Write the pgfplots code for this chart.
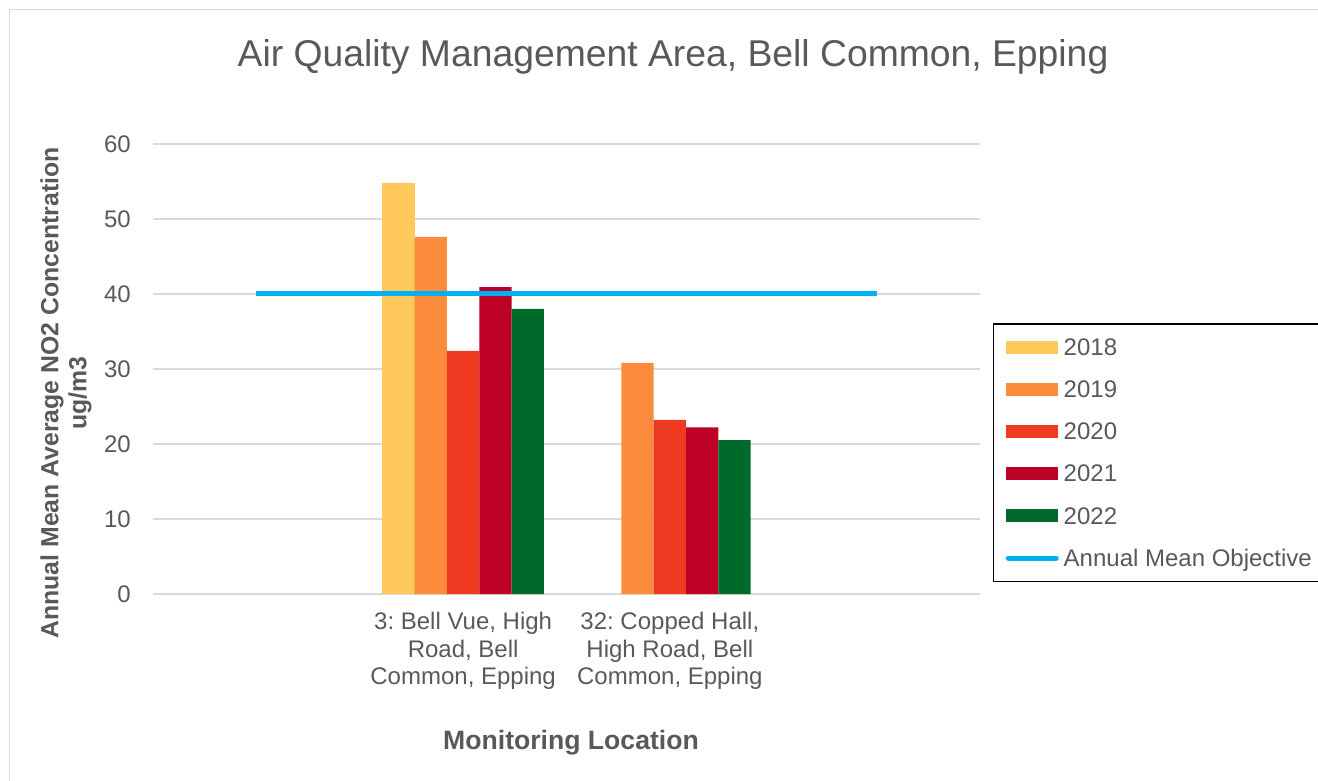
\documentclass[border=0pt]{standalone}
\usepackage{fontspec}
\setmainfont{Liberation Sans}
\usepackage{pgfplots}
\pgfplotsset{compat=1.18}
\frenchspacing
\definecolor{txt}{HTML}{595959}
\definecolor{gridc}{HTML}{D9D9D9}
\definecolor{cA}{HTML}{FFC95C}
\definecolor{cB}{HTML}{FD8B3E}
\definecolor{cC}{HTML}{EE3B22}
\definecolor{cD}{HTML}{BC0026}
\definecolor{cE}{HTML}{006A2A}
\definecolor{cL}{HTML}{00B0F0}
\begin{document}
\frenchspacing
\begin{tikzpicture}[x=1pt,y=1pt]
\path[use as bounding box] (0,0) rectangle (1318,780);
\draw[gridc, line width=1.2pt] (9.5,770.5) rectangle (1340,-20);
\node[txt, font=\fontsize{37.3}{44}\selectfont] at (673,723) {Air Quality Management Area, Bell Common, Epping};
\node[txt, font=\bfseries\fontsize{26.6}{30}\selectfont] at (571,37) {Monitoring Location};
\node[txt, rotate=90, align=center, font=\bfseries\fontsize{24.8}{28}\selectfont] at (66,387) {Annual Mean Average NO2 Concentration\\ug/m3};
\begin{axis}[
  at={(153pt,186pt)}, anchor=south west,
  scale only axis, width=827pt, height=450pt,
  xmin=-0.5, xmax=3.5, ymin=0, ymax=60,
  ytick={0,10,...,60},
  xtick={0,1,2,3},
  xticklabels={{}, {3: Bell Vue, High\\Road, Bell\\Common, Epping}, {32: Copped Hall,\\High Road, Bell\\Common, Epping}, {}},
  xticklabel style={align=center, inner sep=0pt, yshift=-14pt, text=txt, font=\frenchspacing\fontsize{24}{27.2}\selectfont},
  yticklabel style={inner sep=0pt, xshift=-22pt, text=txt, font=\fontsize{24}{27}\selectfont},
  /pgf/number format/assume math mode=true,
  axis line style={draw=none},
  tick style={draw=none},
  ymajorgrids, major grid style={gridc, line width=1.5pt},
  ybar=0pt, bar width=32.3pt,
  legend style={at={(axis description cs:1.0157,0.6022)}, anchor=north west,
    draw=black, line width=1.5pt, text=txt,
    font=\fontsize{24}{27}\selectfont,
    inner xsep=12pt, inner ysep=15pt, row sep=25.7pt,
    nodes={inner sep=0pt, text height=16.5pt, text depth=0pt},
    /tikz/every odd column/.append style={column sep=5pt}},
  legend cell align=left,
]
\addplot[fill=cA, draw=none, bar shift=-64.6pt, legend image code/.code={\fill[cA] (0pt,-6.5pt) rectangle (52pt,6.5pt);}] coordinates {(1,54.8)};
\addplot[fill=cB, draw=none, bar shift=-32.3pt, legend image code/.code={\fill[cB] (0pt,-6.5pt) rectangle (52pt,6.5pt);}] coordinates {(1,47.6) (2,30.8)};
\addplot[fill=cC, draw=none, bar shift=0pt, legend image code/.code={\fill[cC] (0pt,-6.5pt) rectangle (52pt,6.5pt);}] coordinates {(1,32.4) (2,23.2)};
\addplot[fill=cD, draw=none, bar shift=32.3pt, legend image code/.code={\fill[cD] (0pt,-6.5pt) rectangle (52pt,6.5pt);}] coordinates {(1,40.9) (2,22.2)};
\addplot[fill=cE, draw=none, bar shift=64.6pt, legend image code/.code={\fill[cE] (0pt,-6.5pt) rectangle (52pt,6.5pt);}] coordinates {(1,38.0) (2,20.5)};
\addplot[sharp plot, cL, line width=5pt, mark=none, legend image code/.code={\draw[cL, line width=5pt, line cap=round] (2pt,0pt) -- (50pt,0pt);}] coordinates {(0,40) (3,40)};
\legend{2018,2019,2020,2021,2022,Annual Mean Objective}
\end{axis}
\end{tikzpicture}
\end{document}
